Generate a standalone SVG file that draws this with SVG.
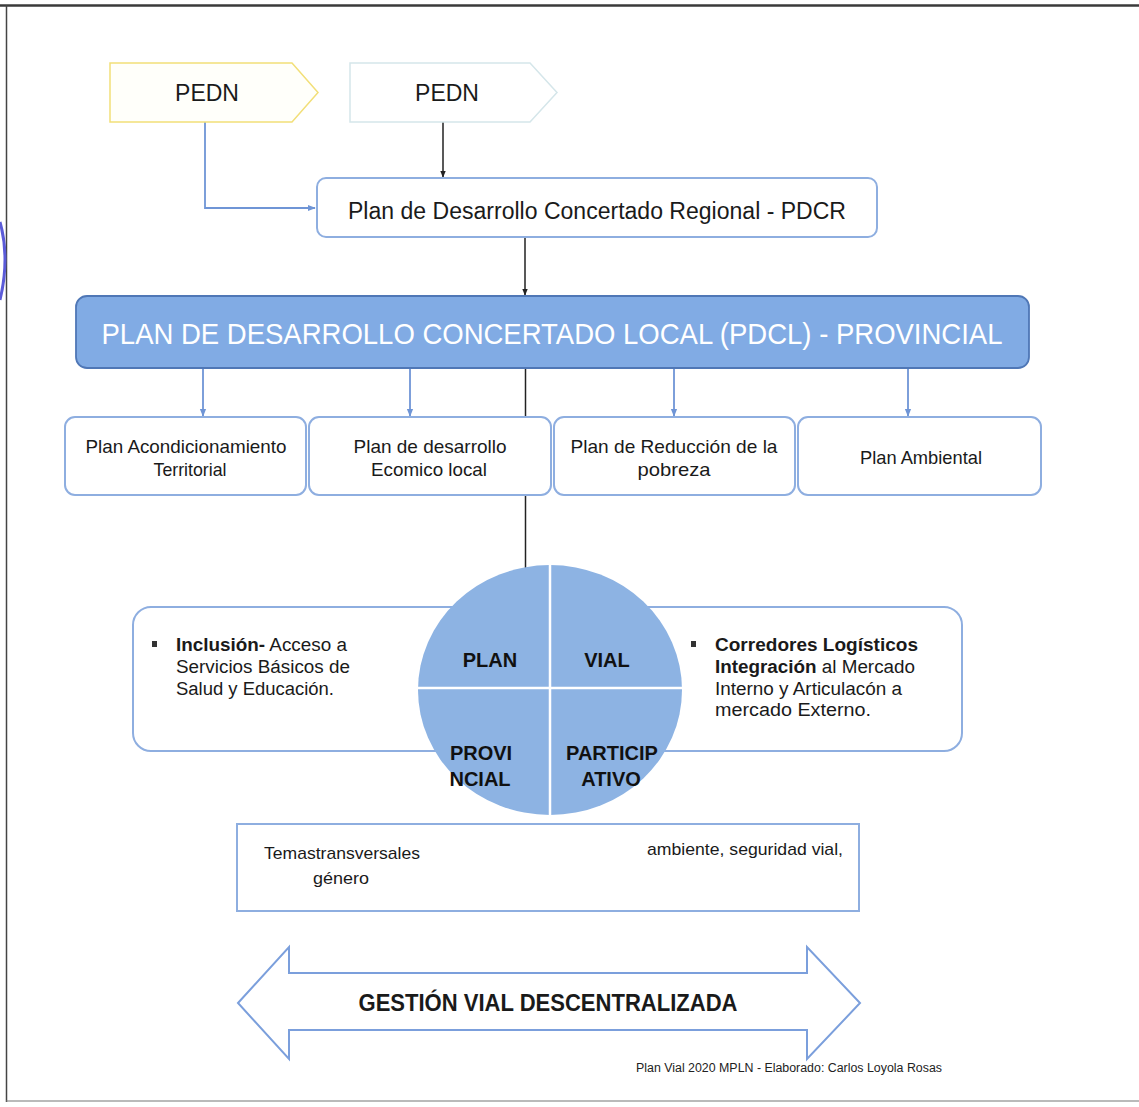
<svg xmlns="http://www.w3.org/2000/svg" width="1139" height="1107" viewBox="0 0 1139 1107">
  <style>
    .sans { font-family: "Liberation Sans", Arial, sans-serif; }
    .box { fill: #ffffff; stroke: #8eaee0; stroke-width: 2; }
    .sub { font-family: "Liberation Sans", Arial, sans-serif; font-size: 19px; fill: #1a1a1a; text-anchor: middle; }
    .body { font-family: "Liberation Sans", Arial, sans-serif; font-size: 18px; fill: #1a1a1a; }
    .quad { font-family: "Liberation Sans", Arial, sans-serif; font-size: 20px; font-weight: bold; fill: #111; text-anchor: middle; }
    .blk { fill: none; stroke: #222; stroke-width: 1.5; }
    .blu { fill: none; stroke: #6f95d6; stroke-width: 1.8; }
  </style>
  <defs>
    <marker id="ab" viewBox="0 0 10 10" refX="9" refY="5" markerWidth="7" markerHeight="7" orient="auto" markerUnits="userSpaceOnUse">
      <path d="M0,1 L10,5 L0,9 z" fill="#222"/>
    </marker>
    <marker id="au" viewBox="0 0 10 10" refX="9" refY="5" markerWidth="8" markerHeight="8" orient="auto" markerUnits="userSpaceOnUse">
      <path d="M0,1 L10,5 L0,9 z" fill="#6f95d6"/>
    </marker>
  </defs>

  <rect width="1139" height="1107" fill="#ffffff"/>

  <!-- page frame -->
  <g id="frame">
    <line x1="0" y1="5.5" x2="1139" y2="5.5" stroke="#3a3a3a" stroke-width="2.5"/>
    <line x1="6.5" y1="5" x2="6.5" y2="1102" stroke="#444" stroke-width="1.5"/>
    <line x1="6" y1="1101" x2="1139" y2="1101" stroke="#777" stroke-width="1.2"/>
    <path d="M0,222 Q10,258 0,300" fill="none" stroke="#5b5bd8" stroke-width="3"/>
  </g>

  <!-- connectors -->
  <g id="connectors">
    <path class="blk" d="M443,122 V177" marker-end="url(#ab)"/>
    <path class="blu" d="M205,122 V208 H315" marker-end="url(#au)"/>
    <path class="blk" d="M525,237 V295" marker-end="url(#ab)"/>
    <path class="blu" d="M203,368 V416" marker-end="url(#au)"/>
    <path class="blu" d="M410,368 V416" marker-end="url(#au)"/>
    <path class="blu" d="M674,368 V416" marker-end="url(#au)"/>
    <path class="blu" d="M908,368 V416" marker-end="url(#au)"/>
    <path class="blk" d="M525.5,368 V568" stroke="#333"/>
  </g>

  <!-- PEDN 1 -->
  <g id="pedn1">
    <polygon points="110,63 292,63 318,92.5 292,122 110,122" fill="#fffffa" stroke="#f2df78" stroke-width="1.5"/>
    <text class="sans" x="207" y="101" font-size="23" text-anchor="middle" fill="#1a1a1a">PEDN</text>
  </g>

  <!-- PEDN 2 -->
  <g id="pedn2">
    <polygon points="350,63 530,63 557,92.5 530,122 350,122" fill="#ffffff" stroke="#d5e6ea" stroke-width="1.5"/>
    <text class="sans" x="447" y="101" font-size="23" text-anchor="middle" fill="#1a1a1a">PEDN</text>
  </g>

  <!-- PDCR -->
  <g id="pdcr">
    <rect class="box" x="317" y="178" width="560" height="59" rx="9"/>
    <text class="sans" x="597" y="219" font-size="23" text-anchor="middle" fill="#1a1a1a" textLength="498" lengthAdjust="spacingAndGlyphs">Plan de Desarrollo Concertado Regional - PDCR</text>
  </g>

  <!-- PDCL -->
  <g id="pdcl">
    <rect x="76" y="296" width="953" height="72" rx="11" fill="#81abe4" stroke="#4f77b6" stroke-width="1.8"/>
    <text class="sans" x="552" y="344" font-size="30" text-anchor="middle" fill="#ffffff" textLength="901" lengthAdjust="spacingAndGlyphs">PLAN DE DESARROLLO  CONCERTADO  LOCAL (PDCL) - PROVINCIAL</text>
  </g>

  <!-- sub plans -->
  <g id="plan-acond">
    <rect class="box" x="65" y="417" width="241" height="78" rx="10"/>
    <text class="sub" x="186" y="453" textLength="201" lengthAdjust="spacingAndGlyphs">Plan Acondicionamiento</text>
    <text class="sub" x="190" y="476" textLength="73" lengthAdjust="spacingAndGlyphs">Territorial</text>
  </g>
  <g id="plan-eco">
    <rect class="box" x="309" y="417" width="242" height="78" rx="10"/>
    <text class="sub" x="430" y="453" textLength="153" lengthAdjust="spacingAndGlyphs">Plan de desarrollo</text>
    <text class="sub" x="429" y="476" textLength="116" lengthAdjust="spacingAndGlyphs">Ecomico local</text>
  </g>
  <g id="plan-pobreza">
    <rect class="box" x="554" y="417" width="241" height="78" rx="10"/>
    <text class="sub" x="674" y="453" textLength="207" lengthAdjust="spacingAndGlyphs">Plan de Reducción de la</text>
    <text class="sub" x="674" y="476" textLength="73" lengthAdjust="spacingAndGlyphs">pobreza</text>
  </g>
  <g id="plan-ambiental">
    <rect class="box" x="798" y="417" width="243" height="78" rx="10"/>
    <text class="sub" x="921" y="464" textLength="122" lengthAdjust="spacingAndGlyphs">Plan Ambiental</text>
  </g>

  <!-- objectives box -->
  <g id="objetivos">
    <rect class="box" x="133" y="607" width="829" height="144" rx="18"/>
    <rect x="152" y="641" width="5" height="6" fill="#333"/>
    <text class="body" x="176" y="651" textLength="171" lengthAdjust="spacingAndGlyphs"><tspan font-weight="bold">Inclusión-</tspan> Acceso a</text>
    <text class="body" x="176" y="673" textLength="174" lengthAdjust="spacingAndGlyphs">Servicios Básicos de</text>
    <text class="body" x="176" y="695" textLength="158" lengthAdjust="spacingAndGlyphs">Salud y Educación.</text>
    <rect x="691" y="641" width="5" height="6" fill="#333"/>
    <text class="body" x="715" y="651" font-weight="bold" textLength="203" lengthAdjust="spacingAndGlyphs">Corredores Logísticos</text>
    <text class="body" x="715" y="673" textLength="200" lengthAdjust="spacingAndGlyphs"><tspan font-weight="bold">Integración</tspan> al Mercado</text>
    <text class="body" x="715" y="695" textLength="187" lengthAdjust="spacingAndGlyphs">Interno y Articulacón a</text>
    <text class="body" x="715" y="716" textLength="156" lengthAdjust="spacingAndGlyphs">mercado Externo.</text>
  </g>

  <!-- circle -->
  <g id="plan-vial-circle">
    <ellipse cx="550" cy="690" rx="132" ry="125" fill="#8db3e3"/>
    <line x1="550" y1="565" x2="550" y2="815" stroke="#ffffff" stroke-width="2.5"/>
    <line x1="418" y1="688" x2="682" y2="688" stroke="#ffffff" stroke-width="2.5"/>
    <text class="quad" x="490" y="667">PLAN</text>
    <text class="quad" x="607" y="667">VIAL</text>
    <text class="quad" x="481" y="760">PROVI</text>
    <text class="quad" x="480" y="786">NCIAL</text>
    <text class="quad" x="612" y="760">PARTICIP</text>
    <text class="quad" x="611" y="786">ATIVO</text>
  </g>

  <!-- transversal themes -->
  <g id="temas">
    <rect x="237" y="824" width="622" height="87" fill="#ffffff" stroke="#8eaee0" stroke-width="2"/>
    <text class="sans" x="264" y="859" font-size="17" fill="#1a1a1a" textLength="156" lengthAdjust="spacingAndGlyphs">Temastransversales</text>
    <text class="sans" x="313" y="884" font-size="17" fill="#1a1a1a" textLength="56" lengthAdjust="spacingAndGlyphs">género</text>
    <text class="sans" x="647" y="855" font-size="17" fill="#1a1a1a" textLength="196" lengthAdjust="spacingAndGlyphs">ambiente, seguridad vial,</text>
  </g>

  <!-- double arrow -->
  <g id="gestion">
    <polygon points="238,1003 289,947 289,973 807,973 807,947 860,1003 807,1059 807,1030 289,1030 289,1059" fill="#ffffff" stroke="#7b9fdc" stroke-width="2"/>
    <text class="sans" x="548" y="1011" font-size="23" font-weight="bold" text-anchor="middle" fill="#1a1a1a" textLength="379" lengthAdjust="spacingAndGlyphs">GESTIÓN  VIAL DESCENTRALIZADA</text>
  </g>

  <!-- credit -->
  <g id="credito">
    <text class="sans" x="636" y="1072" font-size="12" fill="#222" textLength="306" lengthAdjust="spacingAndGlyphs">Plan Vial 2020 MPLN - Elaborado:  Carlos Loyola Rosas</text>
  </g>
</svg>
